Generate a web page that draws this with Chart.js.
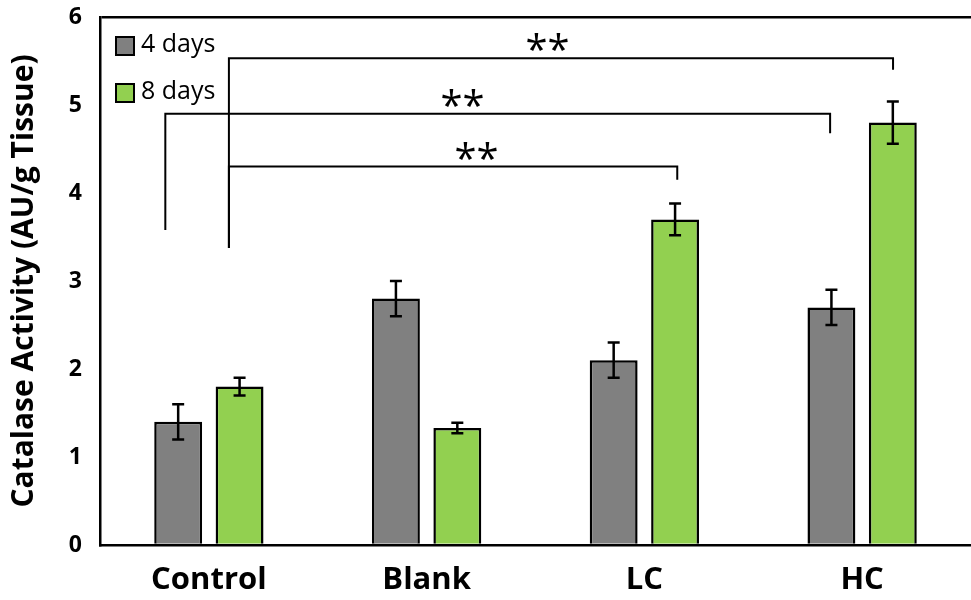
<!DOCTYPE html>
<html>
<head>
<meta charset="utf-8">
<script src="https://cdn.jsdelivr.net/npm/chart.js@4"></script>
<style>
  body { margin: 0; background: #fff; }
  #wrap { width: 971px; height: 600px; position: relative; }
</style>
</head>
<body>
<div id="wrap"><canvas id="chart"></canvas></div>
<script>
// Data
const categories = ['Control', 'Blank', 'LC', 'HC'];
const days4 = [1.4, 2.8, 2.1, 2.7];
const days4Err = [0.2, 0.2, 0.2, 0.2];
const days8 = [1.8, 1.33, 3.7, 4.8];
const days8Err = [0.1, 0.06, 0.18, 0.24];
const yTicks = [0, 1, 2, 3, 4, 5, 6];

// Significance brackets (x in category units, y in data units)
const bracketLeft = [0.092, -0.2, 0.092];
const bracketRight = [3.142, 2.853, 2.151];
const bracketLevel = [5.53, 4.90, 4.30];
const bracketLeftEnd = [3.375, 3.58, 3.375];
const bracketRightEnd = [5.40, 4.68, 4.15];
const starX = [1.555, 1.165, 1.229];
const starLabels = ['**', '**', '**'];

const FONT = "'Open Sans', 'DejaVu Sans', sans-serif";

// Error bars for both series
const errorBars = {
    id: 'errorBars',
    afterDatasetsDraw(chart) {
        const ctx = chart.ctx;
        const y = chart.scales.y;
        const errs = [days4Err, days8Err];
        ctx.save();
        ctx.strokeStyle = '#000';
        ctx.lineWidth = 2.5;
        chart.data.datasets.forEach((ds, i) => {
            const meta = chart.getDatasetMeta(i);
            meta.data.forEach((bar, j) => {
                const v = ds.data[j], e = errs[i][j];
                const top = y.getPixelForValue(v + e);
                const bot = y.getPixelForValue(v - e);
                ctx.beginPath();
                ctx.moveTo(bar.x, top); ctx.lineTo(bar.x, bot);
                ctx.moveTo(bar.x - 6, top); ctx.lineTo(bar.x + 6, top);
                ctx.moveTo(bar.x - 6, bot); ctx.lineTo(bar.x + 6, bot);
                ctx.stroke();
            });
        });
        ctx.restore();
    }
};

// Brackets with stars, plus the legend inside the plot
const annotations = {
    id: 'annotations',
    afterDraw(chart) {
        const ctx = chart.ctx;
        const x = chart.scales.x, y = chart.scales.y;
        ctx.save();
        ctx.strokeStyle = '#000';
        ctx.lineWidth = 2;
        bracketLevel.forEach((lvl, i) => {
            const xl = x.getPixelForValue(bracketLeft[i]);
            const xr = x.getPixelForValue(bracketRight[i]);
            const yl = y.getPixelForValue(lvl);
            ctx.beginPath();
            ctx.moveTo(xl, y.getPixelForValue(bracketLeftEnd[i]));
            ctx.lineTo(xl, yl);
            ctx.lineTo(xr, yl);
            ctx.lineTo(xr, y.getPixelForValue(bracketRightEnd[i]));
            ctx.stroke();
            ctx.fillStyle = '#000';
            ctx.font = '40px ' + FONT;
            ctx.textAlign = 'center';
            ctx.textBaseline = 'alphabetic';
            ctx.fillText(starLabels[i], x.getPixelForValue(starX[i]), yl + 6);
        });

        // legend
        const area = chart.chartArea;
        ctx.font = '25px ' + FONT;
        ctx.textAlign = 'left';
        ctx.textBaseline = 'middle';
        chart.data.datasets.forEach((ds, i) => {
            const bx = area.left + 16, by = area.top + 20 + i * 47;
            ctx.fillStyle = ds.backgroundColor;
            ctx.fillRect(bx, by, 18, 18);
            ctx.strokeRect(bx, by, 18, 18);
            ctx.fillStyle = '#000';
            ctx.fillText(ds.label, bx + 25, by + 8);
        });
        ctx.restore();
    }
};

new Chart(document.getElementById('chart'), {
    type: 'bar',
    data: {
        labels: categories,
        datasets: [
            {
                label: '4 days',
                data: days4,
                backgroundColor: '#808080',
                borderColor: '#000',
                borderWidth: 2.5,
                categoryPercentage: 0.564,
                barPercentage: 0.78
            },
            {
                label: '8 days',
                data: days8,
                backgroundColor: '#92D050',
                borderColor: '#000',
                borderWidth: 2.5,
                categoryPercentage: 0.564,
                barPercentage: 0.78
            }
        ]
    },
    options: {
        responsive: true,
        maintainAspectRatio: false,
        animation: false,
        layout: { autoPadding: false, padding: { top: 17, right: 0, left: 0, bottom: 0 } },
        plugins: {
            legend: { display: false },
            tooltip: { enabled: false }
        },
        scales: {
            x: {
                grid: { display: false, drawTicks: false },
                border: { color: '#000', width: 2.5 },
                ticks: {
                    color: '#000',
                    padding: 17,
                    font: { family: FONT, size: 31, weight: 'bold' }
                },
                afterFit(s) { s.height = 55; s.paddingLeft = 0; s.paddingRight = 0; }
            },
            y: {
                min: yTicks[0],
                max: yTicks[yTicks.length - 1],
                afterBuildTicks(s) { s.ticks = yTicks.map(v => ({ value: v })); },
                grid: {
                    drawTicks: false,
                    lineWidth: 2.5,
                    color: c => (c.tick && c.tick.value === 6 ? '#000' : 'rgba(0,0,0,0)')
                },
                border: { color: '#000', width: 2.5 },
                ticks: {
                    color: '#000',
                    padding: 18,
                    font: { family: FONT, size: 23, weight: 'bold' }
                },
                title: {
                    display: true,
                    text: 'Catalase Activity (AU/g Tissue)',
                    color: '#000',
                    padding: { top: 6, bottom: 0 },
                    font: { family: FONT, size: 30, weight: 'bold' }
                },
                afterFit(s) { s.width = 100; s.paddingTop = 0; s.paddingBottom = 0; }
            }
        }
    },
    plugins: [errorBars, annotations]
});
</script>
</body>
</html>
